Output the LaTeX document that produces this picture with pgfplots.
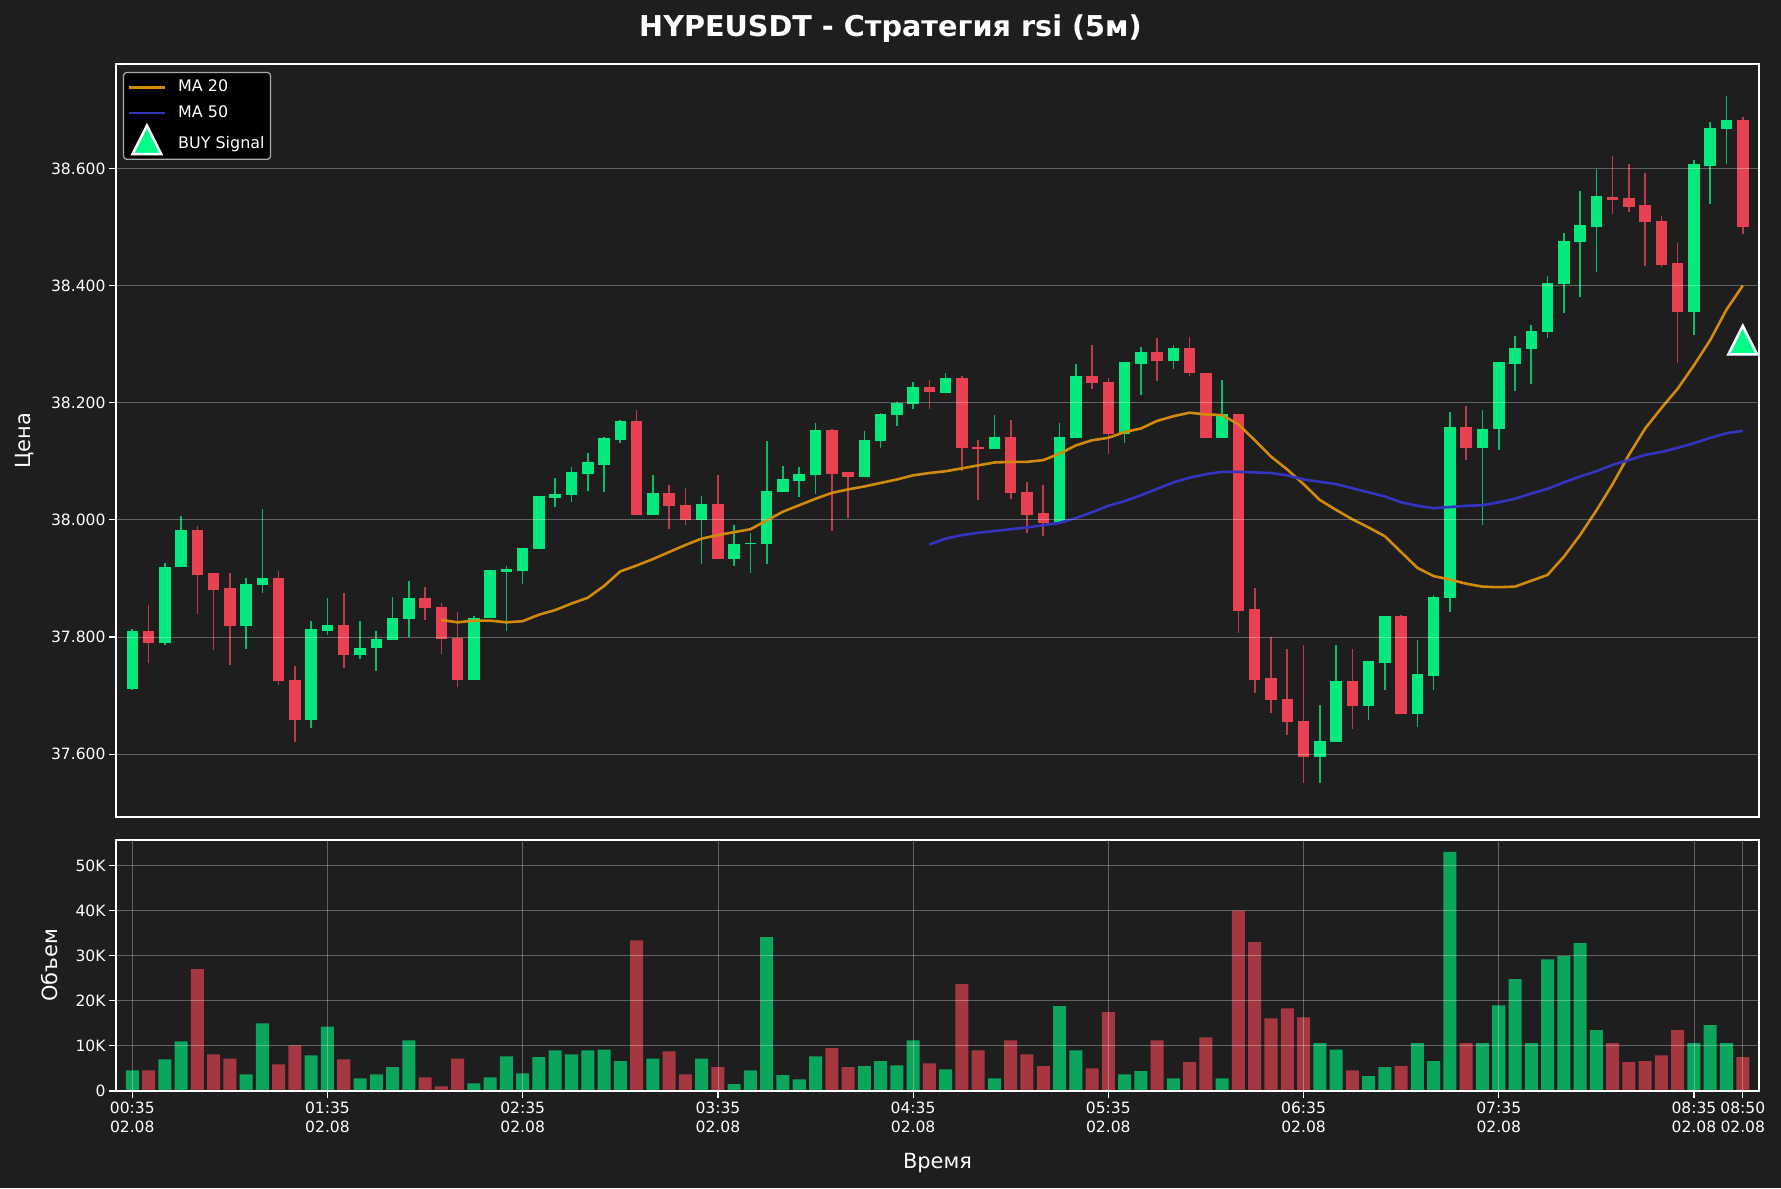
\documentclass[border=0pt]{standalone}
\usepackage{pgfplots}
\pgfplotsset{compat=1.18}
\usepackage{pgfplotstable}
\usepackage{fontspec}
\setmainfont{DejaVu Sans}
\definecolor{bg}{RGB}{30,30,30}
\definecolor{bull}{RGB}{5,232,125}
\definecolor{bear}{RGB}{232,66,82}
\definecolor{bullw}{RGB}{9,188,104}
\definecolor{bearw}{RGB}{188,59,70}
\definecolor{volg}{RGB}{12,165,94}
\definecolor{volr}{RGB}{165,55,64}
\definecolor{ma20c}{RGB}{210,138,10}
\definecolor{ma50c}{RGB}{52,52,192}
\definecolor{buyc}{RGB}{0,255,136}
\definecolor{legedge}{RGB}{170,170,170}

\pgfplotstableread{
i o h l c v
0 37.712 37.813 37.710 37.811 4600
2 37.790 37.927 37.787 37.920 7000
3 37.919 38.006 37.919 37.982 11000
7 37.819 37.901 37.780 37.890 3700
8 37.889 38.018 37.875 37.901 15000
11 37.658 37.828 37.645 37.813 7900
12 37.811 37.867 37.804 37.821 14300
14 37.769 37.827 37.763 37.782 2800
15 37.781 37.810 37.742 37.796 3700
16 37.795 37.868 37.795 37.832 5300
17 37.831 37.896 37.800 37.867 11200
21 37.727 37.835 37.727 37.833 1700
22 37.832 37.914 37.832 37.914 3000
23 37.911 37.922 37.811 37.916 7700
24 37.912 37.952 37.891 37.952 3900
25 37.951 38.040 37.951 38.040 7500
26 38.038 38.072 38.022 38.044 9000
27 38.042 38.090 38.030 38.081 8100
28 38.079 38.114 38.050 38.098 9000
29 38.094 38.142 38.047 38.140 9200
30 38.137 38.170 38.131 38.169 6600
32 38.009 38.077 38.009 38.046 7200
35 37.999 38.040 37.925 38.027 7200
37 37.933 37.992 37.922 37.958 1500
38 37.958 37.977 37.910 37.960 4600
39 37.958 38.135 37.925 38.049 34100
40 38.047 38.092 38.047 38.070 3500
41 38.066 38.090 38.039 38.078 2600
42 38.076 38.165 38.045 38.153 7700
45 38.074 38.152 38.074 38.136 5500
46 38.134 38.183 38.122 38.181 6600
47 38.179 38.201 38.160 38.199 5700
48 38.198 38.236 38.189 38.227 11200
50 38.217 38.251 38.217 38.242 4800
53 38.121 38.179 38.121 38.141 2800
57 37.995 38.165 37.995 38.141 18800
58 38.140 38.267 38.140 38.245 9000
61 38.146 38.270 38.131 38.270 3700
62 38.266 38.295 38.213 38.286 4400
64 38.271 38.299 38.258 38.293 2800
67 38.140 38.239 38.140 38.180 2800
73 37.595 37.684 37.550 37.622 10600
74 37.621 37.786 37.621 37.724 9200
76 37.682 37.759 37.658 37.759 3300
77 37.756 37.836 37.709 37.836 5300
79 37.668 37.795 37.647 37.736 10600
80 37.734 37.872 37.709 37.868 6600
81 37.867 38.185 37.842 38.159 53000
83 38.123 38.188 37.992 38.156 10600
84 38.155 38.270 38.119 38.270 19000
85 38.266 38.314 38.220 38.293 24800
86 38.291 38.333 38.232 38.322 10600
87 38.320 38.417 38.311 38.405 29200
88 38.402 38.490 38.353 38.477 29900
89 38.475 38.562 38.380 38.504 32800
90 38.500 38.599 38.423 38.553 13500
96 38.355 38.614 38.315 38.607 10600
97 38.605 38.679 38.539 38.670 14600
98 38.667 38.723 38.607 38.682 10600
}\greens

\pgfplotstableread{
i o h l c v
1 37.811 37.854 37.755 37.790 4600
4 37.982 37.989 37.840 37.906 27000
5 37.910 37.910 37.777 37.881 8100
6 37.883 37.910 37.752 37.819 7200
9 37.901 37.912 37.718 37.724 5900
10 37.726 37.751 37.620 37.658 10100
13 37.821 37.875 37.747 37.769 7000
18 37.867 37.886 37.829 37.850 3000
19 37.852 37.858 37.771 37.796 1000
20 37.799 37.842 37.715 37.727 7200
31 38.169 38.188 38.009 38.009 33400
33 38.046 38.059 37.985 38.023 8800
34 38.025 38.054 37.992 37.999 3700
36 38.027 38.077 37.933 37.933 5300
43 38.153 38.156 37.981 38.079 9500
44 38.081 38.081 38.003 38.073 5300
49 38.227 38.239 38.189 38.218 6100
51 38.242 38.246 38.083 38.122 23700
52 38.125 38.136 38.034 38.121 9000
54 38.141 38.170 38.036 38.046 11200
55 38.047 38.064 37.978 38.009 8100
56 38.011 38.059 37.972 37.995 5500
59 38.245 38.299 38.224 38.233 5000
60 38.235 38.242 38.113 38.146 17500
63 38.286 38.311 38.237 38.271 11200
65 38.293 38.313 38.245 38.250 6400
66 38.251 38.251 38.140 38.140 11900
68 38.180 38.180 37.807 37.845 40000
69 37.848 37.883 37.705 37.727 33000
70 37.730 37.800 37.670 37.693 16100
71 37.694 37.780 37.632 37.655 18300
72 37.657 37.786 37.550 37.595 16300
75 37.724 37.780 37.643 37.682 4600
78 37.836 37.838 37.668 37.668 5500
82 38.159 38.194 38.102 38.123 10600
91 38.552 38.622 38.523 38.547 10600
92 38.549 38.607 38.525 38.535 6400
93 38.538 38.593 38.434 38.508 6600
94 38.510 38.519 38.431 38.435 7900
95 38.438 38.473 38.268 38.355 13500
99 38.682 38.688 38.489 38.500 7500
}\reds

\pgfplotstableread{
i m
19 37.829
20 37.825
21 37.828
22 37.828
23 37.825
24 37.827
25 37.838
26 37.846
27 37.857
28 37.867
29 37.887
30 37.912
31 37.922
32 37.933
33 37.945
34 37.957
35 37.968
36 37.974
37 37.979
38 37.984
39 37.999
40 38.014
41 38.025
42 38.036
43 38.046
44 38.052
45 38.057
46 38.063
47 38.069
48 38.076
49 38.080
50 38.083
51 38.088
52 38.093
53 38.098
54 38.099
55 38.099
56 38.102
57 38.113
58 38.127
59 38.136
60 38.140
61 38.150
62 38.156
63 38.169
64 38.177
65 38.183
66 38.180
67 38.179
68 38.163
69 38.136
70 38.108
71 38.086
72 38.061
73 38.034
74 38.017
75 38.001
76 37.987
77 37.972
78 37.945
79 37.918
80 37.904
81 37.898
82 37.891
83 37.886
84 37.885
85 37.886
86 37.896
87 37.906
88 37.937
89 37.974
90 38.016
91 38.061
92 38.111
93 38.156
94 38.191
95 38.224
96 38.264
97 38.307
98 38.359
99 38.400
}\matwenty

\pgfplotstableread{
i m
49 37.958
50 37.968
51 37.974
52 37.978
53 37.981
54 37.984
55 37.987
56 37.991
57 37.995
58 38.003
59 38.013
60 38.024
61 38.032
62 38.042
63 38.053
64 38.064
65 38.072
66 38.078
67 38.082
68 38.082
69 38.081
70 38.080
71 38.076
72 38.069
73 38.065
74 38.061
75 38.054
76 38.047
77 38.040
78 38.030
79 38.024
80 38.020
81 38.022
82 38.024
83 38.025
84 38.030
85 38.036
86 38.045
87 38.053
88 38.064
89 38.074
90 38.083
91 38.094
92 38.102
93 38.111
94 38.116
95 38.123
96 38.131
97 38.140
98 38.148
99 38.152
}\mafifty

\pgfplotsset{darkax/.style={
  scale only axis, anchor=south west,
  xmin=-1, xmax=100,
  axis background/.style={fill=bg},
  axis on top,
  axis line style={white, line width=1.6bp},
  tick style={white, line width=1.2bp},
  major tick length=7bp, tick align=outside, tick pos=left,
  ticklabel style={text=white, font=\fontsize{15.6}{19.5}\selectfont},
  /pgf/number format/assume math mode=true,
  major grid style={white, opacity=0.3, line width=0.8bp},
}}
\pgfplotsset{trilegend/.style={legend image code/.code={\draw[mark repeat=2, mark phase=2, ##1] plot coordinates {(0bp,0bp) (18bp,0bp) (36bp,0bp)}; \path (46bp,0bp);}}}
\pgfplotsset{candle/.style 2 args={forget plot, draw=none, mark=none,
  error bars/.cd, y dir=plus, y explicit, error mark=none,
  error bar style={draw=#1, line width=#2}}}

\begin{document}
\begin{tikzpicture}[x=1bp,y=1bp]
\fill[bg] (0,0) rectangle (1781,1188);

% price panel
\begin{axis}[darkax, at={(116bp,371bp)}, width=1643bp, height=753bp,
  ymin=37.4926, ymax=38.7785,
  ytick={37.6,37.8,38.0,38.2,38.4,38.6},
  yticklabels={37.600,37.800,38.000,38.200,38.400,38.600},
  xtick=\empty, ymajorgrids,
  legend style={at={(axis description cs:0.00426,0.9894)}, anchor=north west,
    fill=black, draw=legedge, line width=1.2bp, rounded corners=3bp,
    text=white, font=\fontsize{16}{19}\selectfont,
    row sep=0bp, inner xsep=4bp, inner ysep=2bp,
    nodes={inner ysep=5bp, text height=12bp, text depth=3.5bp}},
  legend cell align=left,
  legend image code/.code={\draw[#1, sharp corners] (0bp,0bp) -- (36bp,0bp); \path (46bp,0bp);},
]
% wicks
\addplot[candle={bullw}{1.6bp}]
  table[x=i, y=l, y error plus expr=\thisrow{h}-\thisrow{l}] {\greens};
\addplot[candle={bearw}{1.6bp}]
  table[x=i, y=l, y error plus expr=\thisrow{h}-\thisrow{l}] {\reds};
% bodies
\addplot[candle={bull}{11.5bp}]
  table[x=i, y=o, y error plus expr=\thisrow{c}-\thisrow{o}] {\greens};
\addplot[candle={bear}{11.5bp}]
  table[x=i, y=c, y error plus expr=\thisrow{o}-\thisrow{c}] {\reds};
% moving averages
\addplot[ma20c, line width=2.6bp, mark=none] table[x=i, y=m] {\matwenty};
\addlegendentry{MA 20}
\addplot[ma50c, line width=2.6bp, mark=none] table[x=i, y=m] {\mafifty};
\addlegendentry{MA 50}
\addplot[only marks, mark=triangle*, mark size=16.5bp,
  mark options={fill=buyc, draw=white, line width=2.5bp, yscale=1.15, sharp corners},
  trilegend]
  coordinates {(99,38.299)};
\addlegendentry{BUY Signal}
\end{axis}

% volume panel
\begin{axis}[darkax, at={(116bp,97bp)}, width=1643bp, height=251bp,
  ymin=0, ymax=55650,
  ytick={0,10000,20000,30000,40000,50000},
  yticklabels={0,10K,20K,30K,40K,50K},
  scaled y ticks=false,
  xtick={0,12,24,36,48,60,72,84,96,99},
  xticklabels={{00:35\\02.08},{01:35\\02.08},{02:35\\02.08},{03:35\\02.08},{04:35\\02.08},{05:35\\02.08},{06:35\\02.08},{07:35\\02.08},{08:35\\02.08},{08:50\\02.08}},
  xticklabel style={align=center},
  xmajorgrids, ymajorgrids,
]
\addplot[ybar, bar width=0.8, bar shift=0pt, fill=volg, draw=none] table[x=i, y=v] {\greens};
\addplot[ybar, bar width=0.8, bar shift=0pt, fill=volr, draw=none] table[x=i, y=v] {\reds};
\end{axis}

% titles and labels
\node[anchor=base, text=white, font=\bfseries\fontsize{28.8}{34}\selectfont] at (890.5,1151.7) {HYPEUSDT - Стратегия rsi (5м)};
\node[rotate=90, text=white, font=\fontsize{21}{25}\selectfont] at (25,747.5) {Цена};
\node[rotate=90, text=white, font=\fontsize{21}{25}\selectfont] at (50,222.5) {Объем};
\node[text=white, font=\fontsize{21}{25}\selectfont] at (937.5,25) {Время};
\end{tikzpicture}
\end{document}
